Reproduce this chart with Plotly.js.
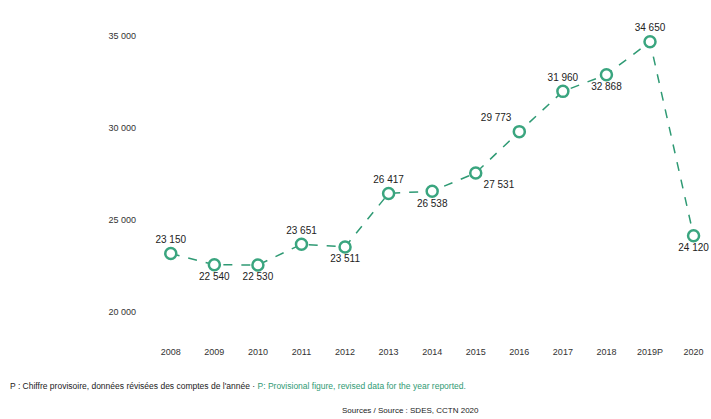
<!DOCTYPE html>
<html>
<head>
<meta charset="utf-8">
<script src="https://cdn.plot.ly/plotly-3.0.1.min.js"></script>
<style>html,body{margin:0;padding:0;background:#fff;}#chart{width:711px;height:419px;}</style>
</head>
<body>
<div id="chart"></div>
<script>
var years = ["2008","2009","2010","2011","2012","2013","2014","2015","2016","2017","2018","2019P","2020"];
var values = [23150, 22540, 22530, 23651, 23511, 26417, 26538, 27531, 29773, 31960, 32868, 34650, 24120];
var labelPositions = ["top center","bottom center","bottom center","top center","bottom center","top center","bottom center","bottom right","top left","top center","bottom center","top center","bottom center"];
var yTicks = [20000, 25000, 30000, 35000];

function fmt(v){ return String(v).replace(/\B(?=(\d{3})+(?!\d))/g, " "); }

var trace = {
  x: years,
  y: values,
  type: "scatter",
  mode: "lines+markers+text",
  text: values.map(fmt),
  textposition: labelPositions,
  textfont: {family: "Liberation Sans, Arial, sans-serif", size: 10, color: "#222"},
  line: {color: "#2f9a74", width: 1.5, dash: "dash"},
  marker: {symbol: "circle", size: 11, color: "#ffffff", line: {color: "#3aa57f", width: 2.5}},
  cliponaxis: false,
  hoverinfo: "x+y"
};

var layout = {
  width: 711, height: 419,
  margin: {l: 149, r: 0, t: 17, b: 78},
  paper_bgcolor: "#ffffff", plot_bgcolor: "#ffffff",
  showlegend: false,
  separators: ", ",
  font: {family: "Liberation Sans, Arial, sans-serif", size: 9, color: "#333"},
  xaxis: {type: "category", range: [-0.5, 12.4], showgrid: false, zeroline: false, showline: false, ticks: "", ticklabelstandoff: 4, tickfont: {size: 9, color: "#333"}},
  yaxis: {range: [18400, 36000], tickvals: yTicks, ticktext: yTicks.map(fmt), showgrid: false, zeroline: false, showline: false, ticks: "", ticklabelstandoff: 12, tickfont: {size: 9, color: "#333"}},
  annotations: [
    {xref: "paper", yref: "paper", x: (8-149)/562, y: 0, xanchor: "left", yanchor: "top", yshift: -38, showarrow: false, align: "left",
     text: "P : Chiffre provisoire, données révisées des comptes de l'année · <span style='color:#2f9a74'>P: Provisional figure, revised data for the year reported.</span>",
     font: {size: 8.5, color: "#222"}},
    {xref: "paper", yref: "paper", x: (410-149)/562, y: 0, xanchor: "center", yanchor: "top", yshift: -63, showarrow: false,
     text: "Sources / Source : SDES, CCTN 2020",
     font: {size: 8, color: "#222"}}
  ]
};

Plotly.newPlot("chart", [trace], layout, {staticPlot: true, displayModeBar: false});
</script>
</body>
</html>
